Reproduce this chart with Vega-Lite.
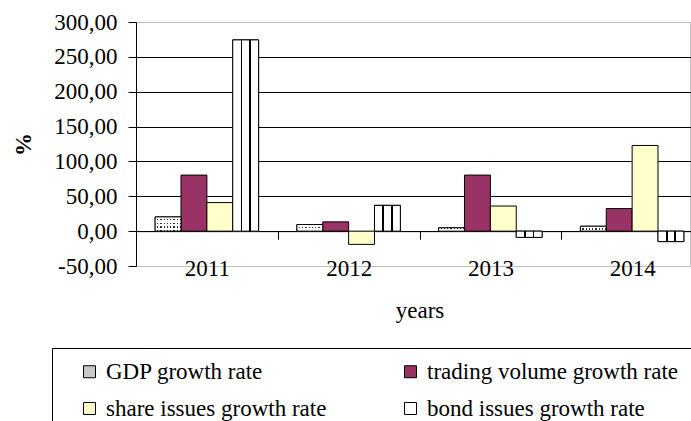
{
  "$schema": "https://vega.github.io/schema/vega-lite/v6.json",
  "width": 554,
  "height": 244,
  "autosize": {"type": "none"},
  "padding": {"left": 136, "top": 22, "right": 1, "bottom": 155},
  "background": "white",
  "config": {
    "locale": {"number": {"decimal": ",", "thousands": ".", "grouping": [3], "currency": ["", ""], "minus": "-"}},
    "font": "Liberation Serif",
    "view": {"stroke": "#c0c0c0"}
  },
  "data": {
    "values": [
      {"year": "2011", "series": "GDP growth rate", "value": 20.4},
      {"year": "2011", "series": "trading volume growth rate", "value": 80.4},
      {"year": "2011", "series": "share issues growth rate", "value": 41},
      {"year": "2011", "series": "bond issues growth rate", "value": 274.3},
      {"year": "2012", "series": "GDP growth rate", "value": 9.5},
      {"year": "2012", "series": "trading volume growth rate", "value": 13.3},
      {"year": "2012", "series": "share issues growth rate", "value": -19},
      {"year": "2012", "series": "bond issues growth rate", "value": 37},
      {"year": "2013", "series": "GDP growth rate", "value": 4.8},
      {"year": "2013", "series": "trading volume growth rate", "value": 80.4},
      {"year": "2013", "series": "share issues growth rate", "value": 36},
      {"year": "2013", "series": "bond issues growth rate", "value": -9},
      {"year": "2014", "series": "GDP growth rate", "value": 7},
      {"year": "2014", "series": "trading volume growth rate", "value": 32.4},
      {"year": "2014", "series": "share issues growth rate", "value": 122.9},
      {"year": "2014", "series": "bond issues growth rate", "value": -15}
    ]
  },
  "encoding": {
    "x": {
      "field": "year",
      "type": "nominal",
      "title": "years",
      "scale": {"range": [0, 567], "paddingInner": 0, "paddingOuter": 0},
      "axis": {
        "orient": "bottom",
        "offset": -34.86,
        "domainColor": "black",
        "tickColor": "black",
        "tickBand": "extent",
        "tickSize": 8,
        "labelAngle": 0,
        "labelFont": "Liberation Serif",
        "labelFontSize": 23,
        "labelColor": "black",
        "labelPadding": 18,
        "grid": false,
        "titleFont": "Liberation Serif",
        "titleFontSize": 23,
        "titleFontWeight": "normal",
        "titleColor": "black",
        "titlePadding": 19
      }
    },
    "xOffset": {
      "field": "series",
      "type": "nominal",
      "scale": {
        "domain": ["GDP growth rate", "trading volume growth rate", "share issues growth rate", "bond issues growth rate"],
        "paddingInner": 0,
        "paddingOuter": 0.74
      }
    },
    "y": {
      "field": "value",
      "type": "quantitative",
      "title": "%",
      "scale": {"domain": [-50, 300], "nice": false},
      "axis": {
        "values": [-50, 0, 50, 100, 150, 200, 250, 300],
        "format": ".2f",
        "labelFont": "Liberation Serif",
        "labelFontSize": 23,
        "labelColor": "black",
        "labelPadding": 11,
        "domainColor": "black",
        "tickColor": "black",
        "tickSize": 8,
        "grid": true,
        "gridOpacity": 1,
        "gridColor": {"condition": {"test": "datum.value === -50 || datum.value === 300", "value": "transparent"}, "value": "black"},
        "titleFont": "Liberation Serif",
        "titleFontSize": 23,
        "titleFontWeight": "bold",
        "titleColor": "black",
        "titlePadding": 18
      }
    }
  },
  "layer": [
    {
      "mark": {"type": "bar", "stroke": "black", "strokeWidth": 1},
      "encoding": {
        "fill": {
          "field": "series",
          "type": "nominal",
          "scale": {
            "domain": ["GDP growth rate", "trading volume growth rate", "share issues growth rate", "bond issues growth rate"],
            "range": ["#c8c8c8", "#993366", "#ffffcc", "#ffffff"]
          },
          "legend": {
            "orient": "none",
            "legendX": -84,
            "legendY": 326,
            "columns": 2,
            "direction": "horizontal",
            "title": null,
            "strokeColor": "black",
            "fillColor": "white",
            "padding": 12,
            "symbolType": "square",
            "symbolSize": 144,
            "symbolOffset": 14,
            "symbolStrokeColor": "black",
            "symbolStrokeWidth": 1,
            "labelFont": "Liberation Serif",
            "labelFontSize": 23,
            "labelColor": "black",
            "labelLimit": 500,
            "labelOffset": 5,
            "labelExpr": "datum.label == 'trading volume growth rate' ? datum.label + '            ' : datum.label",
            "columnPadding": 58,
            "rowPadding": 13,
            "encode": {
              "symbols": {
                "update": {
                  "fill": [
                    {
                      "test": "datum.value === 'bond issues growth rate'",
                      "value": {
                        "gradient": "linear",
                        "x1": 0, "y1": 0, "x2": 1, "y2": 0,
                        "stops": [
                          {"offset": 0, "color": "white"},
                          {"offset": 0.3, "color": "white"},
                          {"offset": 0.3, "color": "black"},
                          {"offset": 0.4, "color": "black"},
                          {"offset": 0.4, "color": "white"},
                          {"offset": 0.6, "color": "white"},
                          {"offset": 0.6, "color": "black"},
                          {"offset": 0.7, "color": "black"},
                          {"offset": 0.7, "color": "white"},
                          {"offset": 1, "color": "white"}
                        ]
                      }
                    },
                    {"scale": "fill", "field": "value"}
                  ],
                  "stroke": {"value": "black"},
                  "strokeWidth": {"value": 1},
                  "opacity": {"value": 1}
                }
              }
            }
          }
        }
      }
    },
    {
      "transform": [{"filter": "datum.series === 'GDP growth rate'"}],
      "mark": {"type": "bar", "fill": "#333333", "strokeWidth": 0},
      "encoding": {}
    },
    {
      "transform": [{"filter": "datum.series === 'GDP growth rate'"}],
      "mark": {
        "type": "bar",
        "strokeWidth": 0,
        "fill": {
          "gradient": "linear",
          "x1": 0, "y1": 0, "x2": 1, "y2": 0,
          "stops": [
            {"offset": 0, "color": "#ffffff"}, {"offset": 0.08, "color": "#ffffff"}, {"offset": 0.08, "color": "rgba(255,255,255,0)"}, {"offset": 0.125, "color": "rgba(255,255,255,0)"},
            {"offset": 0.125, "color": "#ffffff"}, {"offset": 0.205, "color": "#ffffff"}, {"offset": 0.205, "color": "rgba(255,255,255,0)"}, {"offset": 0.25, "color": "rgba(255,255,255,0)"},
            {"offset": 0.25, "color": "#ffffff"}, {"offset": 0.33, "color": "#ffffff"}, {"offset": 0.33, "color": "rgba(255,255,255,0)"}, {"offset": 0.375, "color": "rgba(255,255,255,0)"},
            {"offset": 0.375, "color": "#ffffff"}, {"offset": 0.455, "color": "#ffffff"}, {"offset": 0.455, "color": "rgba(255,255,255,0)"}, {"offset": 0.5, "color": "rgba(255,255,255,0)"},
            {"offset": 0.5, "color": "#ffffff"}, {"offset": 0.58, "color": "#ffffff"}, {"offset": 0.58, "color": "rgba(255,255,255,0)"}, {"offset": 0.625, "color": "rgba(255,255,255,0)"},
            {"offset": 0.625, "color": "#ffffff"}, {"offset": 0.705, "color": "#ffffff"}, {"offset": 0.705, "color": "rgba(255,255,255,0)"}, {"offset": 0.75, "color": "rgba(255,255,255,0)"},
            {"offset": 0.75, "color": "#ffffff"}, {"offset": 0.83, "color": "#ffffff"}, {"offset": 0.83, "color": "rgba(255,255,255,0)"}, {"offset": 0.875, "color": "rgba(255,255,255,0)"},
            {"offset": 0.875, "color": "#ffffff"}, {"offset": 0.955, "color": "#ffffff"}, {"offset": 0.955, "color": "rgba(255,255,255,0)"}, {"offset": 1, "color": "rgba(255,255,255,0)"}
          ]
        }
      },
      "encoding": {}
    },
    {
      "transform": [{"filter": "datum.series === 'GDP growth rate'"}],
      "mark": {
        "type": "bar",
        "strokeWidth": 0,
        "fill": {
          "gradient": "linear",
          "x1": 0, "y1": 0, "x2": 0, "y2": 1,
          "stops": [
            {"offset": 0, "color": "#ffffff"}, {"offset": 0.16, "color": "#ffffff"}, {"offset": 0.16, "color": "rgba(255,255,255,0)"}, {"offset": 0.25, "color": "rgba(255,255,255,0)"},
            {"offset": 0.25, "color": "#ffffff"}, {"offset": 0.41, "color": "#ffffff"}, {"offset": 0.41, "color": "rgba(255,255,255,0)"}, {"offset": 0.5, "color": "rgba(255,255,255,0)"},
            {"offset": 0.5, "color": "#ffffff"}, {"offset": 0.66, "color": "#ffffff"}, {"offset": 0.66, "color": "rgba(255,255,255,0)"}, {"offset": 0.75, "color": "rgba(255,255,255,0)"},
            {"offset": 0.75, "color": "#ffffff"}, {"offset": 0.91, "color": "#ffffff"}, {"offset": 0.91, "color": "rgba(255,255,255,0)"}, {"offset": 1, "color": "rgba(255,255,255,0)"}
          ]
        }
      },
      "encoding": {}
    },
    {
      "transform": [{"filter": "datum.series === 'GDP growth rate'"}],
      "mark": {"type": "bar", "fill": "transparent", "stroke": "black", "strokeWidth": 1},
      "encoding": {}
    },
    {
      "transform": [{"filter": "datum.series === 'bond issues growth rate'"}],
      "mark": {
        "type": "bar",
        "stroke": "black",
        "strokeWidth": 1,
        "fill": {
          "gradient": "linear",
          "x1": 0, "y1": 0, "x2": 1, "y2": 0,
          "stops": [
            {"offset": 0, "color": "white"},
            {"offset": 0.3, "color": "white"},
            {"offset": 0.3, "color": "black"},
            {"offset": 0.37, "color": "black"},
            {"offset": 0.37, "color": "white"},
            {"offset": 0.63, "color": "white"},
            {"offset": 0.63, "color": "black"},
            {"offset": 0.7, "color": "black"},
            {"offset": 0.7, "color": "white"},
            {"offset": 1, "color": "white"}
          ]
        }
      },
      "encoding": {}
    }
  ]
}
